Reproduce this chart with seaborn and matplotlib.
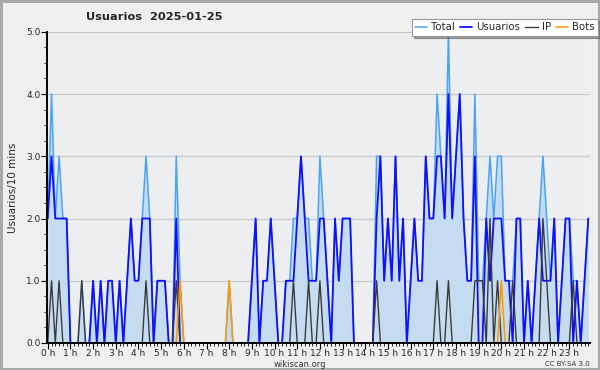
import matplotlib
matplotlib.use("Agg")
import matplotlib.pyplot as plt
import seaborn as sns
import numpy as np
import pandas as pd
from matplotlib.ticker import MultipleLocator, FixedLocator

# valores cada 10 minutos (144 intervalos)
usuarios = [2, 3, 2, 2, 2, 2, 0, 0, 0, 0, 0, 0,
            1, 0, 1, 0, 1, 1, 0, 1, 0, 1, 2, 1,
            1, 2, 2, 2, 0, 1, 1, 1, 0, 0, 2, 0,
            0, 0, 0, 0, 0, 0, 0, 0, 0, 0, 0, 0,
            0, 0, 0, 0, 0, 0, 1, 2, 0, 1, 1, 2,
            1, 0, 0, 1, 1, 1, 2, 3, 2, 1, 1, 1,
            2, 2, 1, 0, 2, 1, 2, 2, 2, 0, 0, 0,
            0, 0, 0, 2, 3, 1, 2, 1, 3, 1, 2, 0,
            1, 2, 1, 1, 3, 2, 2, 3, 3, 2, 4, 2,
            3, 4, 2, 1, 1, 3, 0, 0, 2, 1, 2, 2,
            2, 1, 1, 0, 2, 2, 0, 1, 0, 1, 2, 1,
            1, 1, 2, 0, 1, 2, 2, 0, 1, 0, 1, 2]
ip = [0, 1, 0, 1, 0, 0, 0, 0, 0, 1, 0, 0,
      0, 0, 0, 0, 0, 0, 0, 0, 0, 0, 0, 0,
      0, 0, 1, 0, 0, 0, 0, 0, 0, 0, 1, 0,
      0, 0, 0, 0, 0, 0, 0, 0, 0, 0, 0, 0,
      0, 0, 0, 0, 0, 0, 0, 0, 0, 0, 0, 0,
      0, 0, 0, 0, 0, 1, 0, 0, 0, 1, 0, 0,
      1, 0, 0, 0, 0, 0, 0, 0, 0, 0, 0, 0,
      0, 0, 0, 1, 0, 0, 0, 0, 0, 0, 0, 0,
      0, 0, 0, 0, 0, 0, 0, 1, 0, 0, 1, 0,
      0, 0, 0, 0, 0, 1, 1, 1, 0, 2, 0, 1,
      0, 0, 0, 1, 0, 0, 0, 0, 0, 0, 0, 2,
      1, 0, 0, 0, 0, 0, 0, 1, 0, 0, 0, 0]
bots = [0, 0, 0, 0, 0, 0, 0, 0, 0, 0, 0, 0,
        0, 0, 0, 0, 0, 0, 0, 0, 0, 0, 0, 0,
        0, 0, 0, 0, 0, 0, 0, 0, 0, 0, 0, 1,
        0, 0, 0, 0, 0, 0, 0, 0, 0, 0, 0, 0,
        1, 0, 0, 0, 0, 0, 0, 0, 0, 0, 0, 0,
        0, 0, 0, 0, 0, 0, 0, 0, 0, 0, 0, 0,
        0, 0, 0, 0, 0, 0, 0, 0, 0, 0, 0, 0,
        0, 0, 0, 0, 0, 0, 0, 0, 0, 0, 0, 0,
        0, 0, 0, 0, 0, 0, 0, 0, 0, 0, 0, 0,
        0, 0, 0, 0, 0, 0, 0, 0, 0, 0, 0, 0,
        1, 0, 0, 0, 0, 0, 0, 0, 0, 0, 0, 0,
        0, 0, 0, 0, 0, 0, 0, 0, 0, 0, 0, 0]
total = [2, 4, 2, 3, 2, 2, 0, 0, 0, 1, 0, 0,
         1, 0, 1, 0, 1, 1, 0, 1, 0, 1, 2, 1,
         1, 2, 3, 2, 0, 1, 1, 1, 0, 0, 3, 1,
         0, 0, 0, 0, 0, 0, 0, 0, 0, 0, 0, 0,
         1, 0, 0, 0, 0, 0, 1, 2, 0, 1, 1, 2,
         1, 0, 0, 1, 1, 2, 2, 3, 2, 2, 1, 1,
         3, 2, 1, 0, 2, 1, 2, 2, 2, 0, 0, 0,
         0, 0, 0, 3, 3, 1, 2, 1, 3, 1, 2, 0,
         1, 2, 1, 1, 3, 2, 2, 4, 3, 2, 5, 2,
         3, 4, 2, 1, 1, 4, 1, 1, 2, 3, 2, 3,
         3, 1, 1, 1, 2, 2, 0, 1, 0, 1, 2, 3,
         2, 1, 2, 0, 1, 2, 2, 1, 1, 0, 1, 2]
hour_labels = [f"{h} h" for h in range(24)]

df = pd.DataFrame({"t": np.arange(len(total)), "Total": total,
                   "Usuarios": usuarios, "IP": ip, "Bots": bots})

sns.set_theme(style="white")
plt.rcParams["font.family"] = ["DejaVu Sans"]

fig = plt.figure(figsize=(6, 3.7), dpi=100, facecolor="#efefef")
fig.patch.set_edgecolor("#a8a8a8")
fig.patch.set_linewidth(2.5)
ax = fig.add_axes([0.078, 0.073, 0.905, 0.841])
ax.set_facecolor("#eceef0")

ax.fill_between(df["t"], df["Total"], color="#c5dcf0", lw=0, zorder=1)
colors = {"Total": "#4aa3f5", "Usuarios": "#1010ff", "IP": "#3a3a3a", "Bots": "#ff9900"}
widths = {"Total": 1.1, "Usuarios": 1.3, "IP": 1.0, "Bots": 1.1}
for name in ["Total", "Usuarios", "IP", "Bots"]:
    sns.lineplot(data=df, x="t", y=name, ax=ax, color=colors[name],
                 lw=widths[name], label=name, zorder=3)

ax.set_xlim(-0.25, 143.4)
ax.set_ylim(0, 5)
ax.yaxis.set_minor_locator(MultipleLocator(0.25))
ax.set_yticks(np.arange(0, 6))
ax.set_yticklabels([f"{v:.1f}" for v in range(6)])
ax.xaxis.set_minor_locator(FixedLocator(np.arange(0, 144, 1)))
ax.set_xticks(np.arange(0, 144, 6))
ax.set_xticklabels(hour_labels)
ax.tick_params(axis="both", which="major", labelsize=6.5, length=4, width=0.8,
               color="black", pad=0.5, direction="out", bottom=True, left=True)
ax.tick_params(axis="both", which="minor", length=2.5, width=0.6, color="black",
               bottom=True, left=True)
ax.grid(axis="y", which="major", color="#c8c8c8", lw=0.9)
ax.grid(axis="x", visible=False)
for s in ["top", "right"]:
    ax.spines[s].set_visible(False)
for s in ["left", "bottom"]:
    ax.spines[s].set_color("black")
    ax.spines[s].set_linewidth(1.4)
    ax.spines[s].set_zorder(5)
ax.set_xlabel("")
ax.set_ylabel("Usuarios/10 mins", fontsize=7.5, labelpad=6)

leg = ax.legend(loc="upper right", bbox_to_anchor=(0.997, 0.95), bbox_transform=fig.transFigure,
                ncol=4, fontsize=7.3, frameon=True, fancybox=False, shadow=True,
                handlelength=1.2, handletextpad=0.4, columnspacing=0.5,
                borderpad=0.35, borderaxespad=0)
leg.get_frame().set_edgecolor("#999999")
leg.get_frame().set_facecolor("white")
leg.get_frame().set_linewidth(0.8)

fig.text(0.143, 0.955, "Usuarios  2025-01-25", fontsize=8.2, fontweight="bold", ha="left", va="center")
fig.text(0.5, 0.016, "wikiscan.org", fontsize=6, ha="center", va="center", color="#333333")
fig.text(0.983, 0.016, "CC BY-SA 3.0", fontsize=5, ha="right", va="center", color="#333333")

fig.savefig("out.png", dpi=100, facecolor=fig.get_facecolor(), edgecolor=fig.patch.get_edgecolor())
